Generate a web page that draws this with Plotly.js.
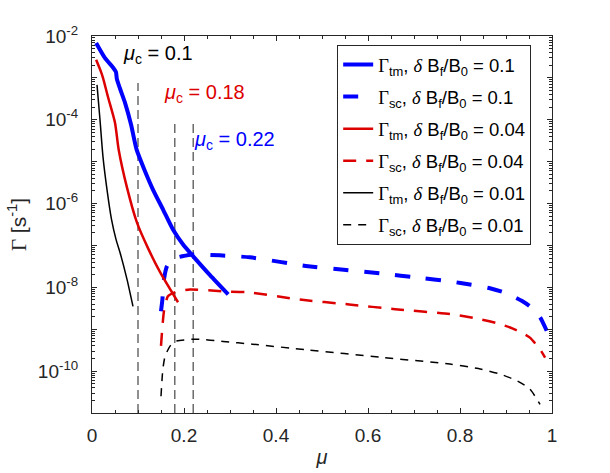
<!DOCTYPE html>
<html>
<head>
<meta charset="utf-8">
<script src="https://cdn.plot.ly/plotly-3.0.1.min.js"></script>
<style>
  html, body { margin: 0; padding: 0; background: #ffffff; }
  #plot { width: 610px; height: 473px; }
</style>
</head>
<body>
<div id="plot"></div>
<script>
// Gamma_tm, dB/B0 = 0.1 (blue solid)
const muTm01 = [0.009, 0.028, 0.046, 0.052, 0.054, 0.061, 0.072, 0.085, 0.097, 0.115, 0.133, 0.155, 0.176, 0.198, 0.22, 0.257, 0.296];
const gTm01 = [6.8e-3, 3.0e-3, 1.75e-3, 1.39e-3, 9.5e-4, 5.5e-4, 2.5e-4, 7.6e-5, 1.93e-5, 6.0e-6, 2.1e-6, 7.0e-7, 2.4e-7, 1.05e-7, 5.5e-8, 1.93e-8, 6.8e-9];

// Gamma_sc, dB/B0 = 0.1 (blue dashed)
const muSc01 = [0.15, 0.153, 0.1565, 0.163, 0.174, 0.196, 0.22, 0.278, 0.343, 0.47, 0.626, 0.72, 0.778, 0.825, 0.865, 0.895, 0.915, 0.935, 0.952, 0.974, 0.989];
const gSc01 = [2.7e-9, 5.1e-9, 1.55e-8, 3.2e-8, 4.7e-8, 5.5e-8, 6.1e-8, 5.8e-8, 5.2e-8, 3.2e-8, 2.15e-8, 1.65e-8, 1.39e-8, 1.15e-8, 9.5e-9, 7.6e-9, 6.1e-9, 4.7e-9, 3.5e-9, 1.93e-9, 8.9e-10];

// Gamma_sc, dB/B0 = 0.04 (red solid)
const muTm004 = [0.009, 0.0196, 0.0239, 0.0348, 0.05, 0.058, 0.0761, 0.0978, 0.122, 0.148, 0.187];
const gTm004 = [2.7e-3, 1.39e-3, 1.0e-3, 3.5e-4, 8.5e-5, 1.93e-5, 2.4e-6, 3.5e-7, 8.5e-8, 2.3e-8, 4.4e-9];

// Gamma_sc, dB/B0 = 0.04 (red dashed)
const muSc004 = [0.15, 0.1565, 0.165, 0.18, 0.213, 0.285, 0.339, 0.452, 0.559, 0.659, 0.778, 0.843, 0.88, 0.909, 0.935, 0.952, 0.974, 0.985];
const gSc004 = [4.0e-10, 2.7e-9, 6.1e-9, 7.6e-9, 8.9e-9, 8.0e-9, 7.6e-9, 5.1e-9, 3.9e-9, 3.0e-9, 2.3e-9, 1.74e-9, 1.4e-9, 1.1e-9, 8.2e-10, 6.3e-10, 3.3e-10, 2.1e-10];

// Gamma_tm, dB/B0 = 0.01 (black solid)
const muTm001 = [0.0109, 0.0174, 0.0239, 0.0326, 0.0424, 0.0522, 0.0609, 0.0761, 0.0891];
const gTm001 = [6.8e-4, 1.0e-4, 1.3e-5, 2.15e-6, 4.2e-7, 1.4e-7, 6.8e-8, 1.55e-8, 3.5e-9];

// Gamma_sc, dB/B0 = 0.01 (black dashed)
const muSc001 = [0.15, 0.154, 0.159, 0.17, 0.18, 0.228, 0.285, 0.348, 0.47, 0.626, 0.778, 0.84, 0.887, 0.925, 0.952, 0.974];
const gSc001 = [2.5e-11, 1.1e-10, 2.3e-10, 4.0e-10, 5.1e-10, 5.8e-10, 5.1e-10, 4.4e-10, 3.2e-10, 2.15e-10, 1.47e-10, 1.15e-10, 8.5e-11, 5.8e-11, 3.7e-11, 1.6e-11];

// critical mu markers
const muCrit = [0.1, 0.18, 0.22];
const critTop = [7.6e-4, 1.0e-4, 1.0e-4];
const critBottom = 1e-11;
const critLabels = ['0.1', '0.18', '0.22'];
const critColors = ['#000000', '#dd0000', '#0000ff'];
const critLabelPos = [[0.064, -2.45], [0.152, -3.38], [0.217, -4.5]];

const yTickVals = [1e-2, 1e-3, 1e-4, 1e-5, 1e-6, 1e-7, 1e-8, 1e-9, 1e-10, 1e-11];
const yTickText = ['10<sup>-2</sup>', '', '10<sup>-4</sup>', '', '10<sup>-6</sup>', '', '10<sup>-8</sup>', '', '10<sup>-10</sup>', ''];

const FONT = 'Liberation Sans, Arial, Helvetica, sans-serif';
const SERIF = 'Liberation Serif';
const BLUE = '#0000ff', RED = '#dd0000', BLACK = '#000000';

function lbl(sub, val) {
  return '<span style="font-family:' + SERIF + '">Γ</span><sub>' + sub + '</sub>, ' +
    '<span style="font-family:' + SERIF + '"><i>δ</i></span> B<sub>f</sub>/B<sub>0</sub> = ' + val;
}

// minor log ticks (2..9 of each decade)
const minorVals = [];
for (let d = -11; d < -2; d++) {
  for (let k = 2; k <= 9; k++) minorVals.push(k * Math.pow(10, d));
}

const traces = [];

muCrit.forEach((m, i) => {
  traces.push({
    x: [m, m], y: [critBottom, critTop[i]],
    mode: 'lines', showlegend: false, hoverinfo: 'skip',
    line: { color: '#555555', width: 1.3, dash: '9px,5px' }
  });
});

const smooth = { shape: 'spline', smoothing: 0.6 };

function curve(x, y, name, group, line) {
  return { x: x, y: y, mode: 'lines', name: name, legendgroup: group, line: Object.assign(line, smooth) };
}

traces.push(
  curve(muTm01, gTm01, lbl('tm', '0.1'), 'a', { color: BLUE, width: 4 }),
  curve(muSc01, gSc01, lbl('sc', '0.1'), 'b', { color: BLUE, width: 4, dash: '15px,16px' }),
  curve(muTm004, gTm004, lbl('tm', '0.04'), 'c', { color: RED, width: 2.5 }),
  curve(muSc004, gSc004, lbl('sc', '0.04'), 'd', { color: RED, width: 2.5, dash: '13px,10px' }),
  curve(muTm001, gTm001, lbl('tm', '0.01'), 'e', { color: BLACK, width: 1.5 }),
  curve(muSc001, gSc001, lbl('sc', '0.01'), 'f', { color: BLACK, width: 1.5, dash: '8px,7px' })
);

const annotations = muCrit.map((m, i) => ({
  x: critLabelPos[i][0], y: critLabelPos[i][1], xref: 'x', yref: 'y',
  xanchor: 'left', yanchor: 'middle', showarrow: false,
  text: '<i>μ</i><sub>c</sub> = ' + critLabels[i],
  font: { family: FONT, size: 20, color: critColors[i] }
}));

const layout = {
  width: 610,
  height: 473,
  margin: { l: 92, r: 58, t: 36, b: 60 },
  paper_bgcolor: '#ffffff',
  plot_bgcolor: '#ffffff',
  font: { family: FONT, size: 18, color: '#262626' },
  showlegend: true,
  legend: {
    x: 0.533, xanchor: 'left',
    y: 0.976, yanchor: 'top',
    bgcolor: '#ffffff',
    bordercolor: '#262626',
    borderwidth: 1,
    font: { family: FONT, size: 18.5, color: '#000000' },
    tracegroupgap: 5,
    itemwidth: 30
  },
  xaxis: {
    range: [0, 1],
    tickvals: [0, 0.2, 0.4, 0.6, 0.8, 1],
    ticktext: ['0', '0.2', '0.4', '0.6', '0.8', '1'],
    ticks: 'inside', ticklen: 5, tickcolor: '#262626',
    minor: { dtick: 0.05, tick0: 0, ticks: 'inside', ticklen: 3, tickcolor: '#262626' },
    showline: true, linecolor: '#262626', linewidth: 1, mirror: 'allticks',
    showgrid: false, zeroline: false,
    ticklabelstandoff: 5,
    tickfont: { family: FONT, size: 19, color: '#262626' },
    title: { text: '<i>μ</i>', font: { family: FONT, size: 20, color: '#262626' }, standoff: 5 }
  },
  yaxis: {
    type: 'log',
    range: [-11, -2],
    tickmode: 'array',
    tickvals: yTickVals,
    ticktext: yTickText,
    ticks: 'inside', ticklen: 5, tickcolor: '#262626',
    minor: { tickmode: 'array', tickvals: minorVals, ticks: 'inside', ticklen: 3, tickcolor: '#262626' },
    showline: true, linecolor: '#262626', linewidth: 1, mirror: 'allticks',
    showgrid: false, zeroline: false,
    ticklabelstandoff: 9,
    tickfont: { family: FONT, size: 19, color: '#262626' },
    title: {
      text: '<span style="font-family:' + SERIF + '">Γ</span> [s<sup>-1</sup>]',
      font: { family: FONT, size: 21, color: '#262626' },
      standoff: 5
    }
  },
  annotations: annotations
};

Plotly.newPlot('plot', traces, layout, { displayModeBar: false, responsive: false });
</script>
</body>
</html>
